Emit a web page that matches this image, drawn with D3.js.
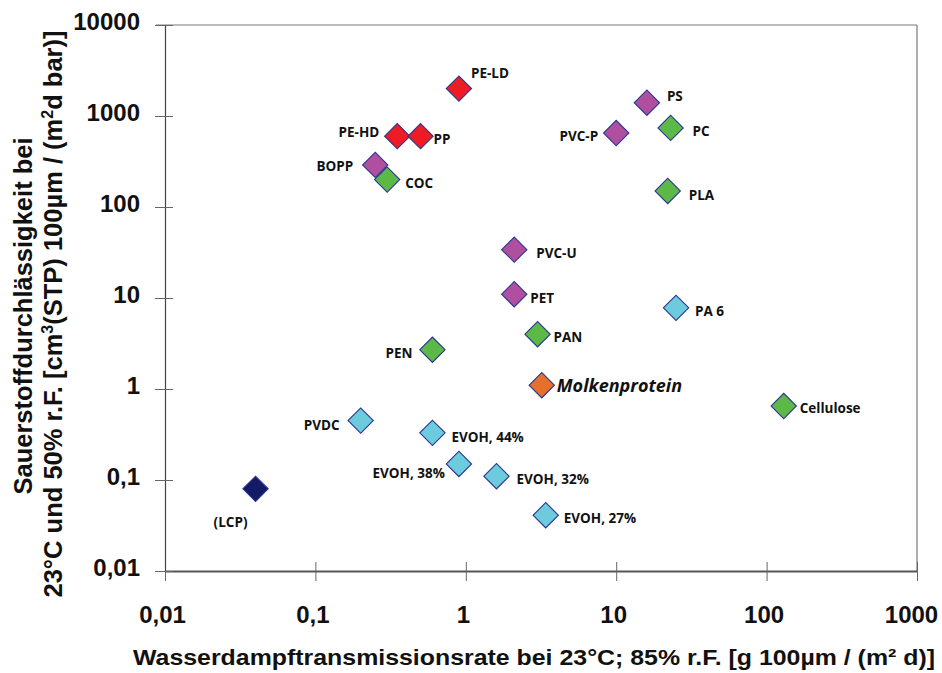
<!DOCTYPE html>
<html>
<head>
<meta charset="utf-8">
<script src="https://cdn.jsdelivr.net/npm/d3@7"></script>
<style>
  html, body { margin: 0; padding: 0; background: #fff; }
  svg { display: block; }
</style>
</head>
<body>
<svg id="chart" width="942" height="673"></svg>
<script>
// Materials: water vapour transmission rate (x) vs. oxygen permeability (y)
const materials = ["PE-LD", "PE-HD", "PP", "BOPP", "COC", "PS", "PVC-P", "PC", "PLA",
  "PVC-U", "PET", "PA 6", "PAN", "PEN", "Molkenprotein", "Cellulose", "PVDC",
  "EVOH, 44%", "EVOH, 38%", "EVOH, 32%", "EVOH, 27%", "(LCP)"];
const wvtr = [0.9, 0.35, 0.5, 0.25, 0.3, 16, 10, 23, 22,
  2.1, 2.1, 25, 3, 0.6, 3.2, 130, 0.2,
  0.6, 0.9, 1.6, 3.4, 0.04];
const otr = [2000, 600, 600, 290, 200, 1400, 650, 740, 150,
  34, 11, 7.8, 4, 2.7, 1.1, 0.65, 0.45,
  0.33, 0.15, 0.11, 0.041, 0.08];
const groups = ["polyolefin", "polyolefin", "polyolefin", "styrenic", "bio", "styrenic", "styrenic", "bio", "bio",
  "styrenic", "styrenic", "barrier", "bio", "bio", "protein", "bio", "barrier",
  "barrier", "barrier", "barrier", "barrier", "lcp"];

const xTicks = [0.01, 0.1, 1, 10, 100, 1000];
const yTicks = [0.01, 0.1, 1, 10, 100, 1000, 10000];
const xTickLabels = ["0,01", "0,1", "1", "10", "100", "1000"];
const yTickLabels = ["0,01", "0,1", "1", "10", "100", "1000", "10000"];

const groupColors = {
  polyolefin: "#ed1c24",
  styrenic: "#b04f9f",
  bio: "#5cb948",
  barrier: "#6ccbdc",
  protein: "#e5702a",
  lcp: "#131b66"
};

// label placement: [dx, dy, anchor]
const labelPos = {
  "PE-LD": [12, -15, "start"],
  "PE-HD": [-18, -4, "end"],
  "PP": [13, 3, "start"],
  "BOPP": [-22, 1, "end"],
  "COC": [18, 4, "start"],
  "PS": [20, -6, "start"],
  "PVC-P": [-18, 3, "end"],
  "PC": [22, 3, "start"],
  "PLA": [21, 4, "start"],
  "PVC-U": [22, 4, "start"],
  "PET": [16, 4, "start"],
  "PA 6": [19, 3, "start"],
  "PAN": [16, 3, "start"],
  "PEN": [-20, 4, "end"],
  "Molkenprotein": [15, 0, "start"],
  "Cellulose": [16, 2, "start"],
  "PVDC": [-21, 5, "end"],
  "EVOH, 44%": [19, 4, "start"],
  "EVOH, 38%": [-14, 9, "end"],
  "EVOH, 32%": [20, 3, "start"],
  "EVOH, 27%": [18, 3, "start"],
  "(LCP)": [-25, 33, "middle"]
};

const margin = { left: 165, top: 25, right: 917, bottom: 571 };
const svg = d3.select("#chart");

const x = d3.scaleLog().domain([0.01, 1000]).range([margin.left, margin.right]);
const y = d3.scaleLog().domain([0.01, 10000]).range([margin.bottom, margin.top]);

const frameColor = "#7a7a7a";
const axisFont = "'Liberation Sans', Arial, sans-serif";

// plot frame (top and right)
svg.append("line").attr("x1", margin.left - 9).attr("x2", margin.right)
  .attr("y1", margin.top).attr("y2", margin.top)
  .attr("stroke", frameColor).attr("stroke-width", 1.2);
svg.append("line").attr("x1", margin.right).attr("x2", margin.right)
  .attr("y1", margin.top).attr("y2", margin.bottom)
  .attr("stroke", frameColor).attr("stroke-width", 1.2);

// x axis
const xAxis = d3.axisBottom(x).tickValues(xTicks)
  .tickFormat((d, i) => xTickLabels[i]).tickSize(0).tickPadding(44);
const gx = svg.append("g").attr("transform", `translate(0,${margin.bottom})`).call(xAxis);
gx.select(".domain").attr("stroke", "#555").attr("stroke-width", 2.2);
gx.selectAll(".tick").append("line")
  .attr("y1", -9).attr("y2", 10).attr("stroke", "#666").attr("stroke-width", 1);
gx.selectAll(".tick text")
  .attr("font-family", axisFont)
  .attr("font-weight", "bold").attr("font-size", 24).attr("fill", "#111")
  .attr("dy", "0.35em")
  .attr("dx", (d, i) => i === xTicks.length - 1 ? -6 : -3);

// y axis
const yAxis = d3.axisLeft(y).tickValues(yTicks)
  .tickFormat((d, i) => yTickLabels[i]).tickSize(0).tickPadding(25);
const gy = svg.append("g").attr("transform", `translate(${margin.left},0)`).call(yAxis);
gy.select(".domain").attr("stroke", "#444").attr("stroke-width", 1.2);
gy.selectAll(".tick").append("line")
  .attr("x1", -10).attr("x2", 8).attr("stroke", "#666").attr("stroke-width", 1);
gy.selectAll(".tick text")
  .attr("font-family", axisFont)
  .attr("font-weight", "bold").attr("font-size", 24).attr("fill", "#111")
  .attr("dy", "0.2em");

// axis titles
svg.append("text")
  .attr("x", 534).attr("y", 665)
  .attr("text-anchor", "middle")
  .attr("font-family", axisFont)
  .attr("font-weight", "bold").attr("font-size", 22).attr("fill", "#111")
  .attr("textLength", 802).attr("lengthAdjust", "spacingAndGlyphs")
  .text("Wasserdampftransmissionsrate bei 23°C; 85% r.F. [g 100µm / (m² d)]");

const yTitle = svg.append("g")
  .attr("font-family", axisFont)
  .attr("font-weight", "bold").attr("font-size", 25.5).attr("fill", "#111")
  .attr("text-anchor", "middle");
yTitle.append("text")
  .attr("transform", "translate(32,316) rotate(-90)")
  .text("Sauerstoffdurchlässigkeit bei");
const l2 = yTitle.append("text")
  .attr("transform", "translate(62,314) rotate(-90)");
l2.append("tspan").text("23°C und 50% r.F. [cm");
l2.append("tspan").attr("font-size", 16).attr("dy", -9).text("3");
l2.append("tspan").attr("dy", 9).text("(STP) 100µm / (m");
l2.append("tspan").attr("font-size", 16).attr("dy", -9).text("2");
l2.append("tspan").attr("dy", 9).text("d bar)]");

// data points
const data = materials.map((name, i) => ({
  name, wvtr: wvtr[i], otr: otr[i], group: groups[i]
}));

const diamond = d3.symbol().type(d3.symbolSquare).size(320);

const pts = svg.append("g");
pts.selectAll("path").data(data).join("path")
  .attr("d", diamond)
  .attr("transform", d => `translate(${x(d.wvtr)},${y(d.otr)}) rotate(45)`)
  .attr("fill", d => groupColors[d.group])
  .attr("stroke", "#2b3590").attr("stroke-width", 1.1);

// point labels
const labels = svg.append("g");
labels.selectAll("text").data(data).join("text")
  .attr("x", d => x(d.wvtr) + labelPos[d.name][0])
  .attr("y", d => y(d.otr) + labelPos[d.name][1])
  .attr("dy", "0.35em")
  .attr("text-anchor", d => labelPos[d.name][2])
  .attr("font-family", "'Open Sans', 'Noto Sans', sans-serif")
  .attr("font-weight", "bold")
  .attr("font-style", d => d.name === "Molkenprotein" ? "italic" : "normal")
  .attr("font-size", d => d.name === "Molkenprotein" ? 18 : 13.5)
  .attr("fill", "#111")
  .text(d => d.name);
</script>
</body>
</html>
